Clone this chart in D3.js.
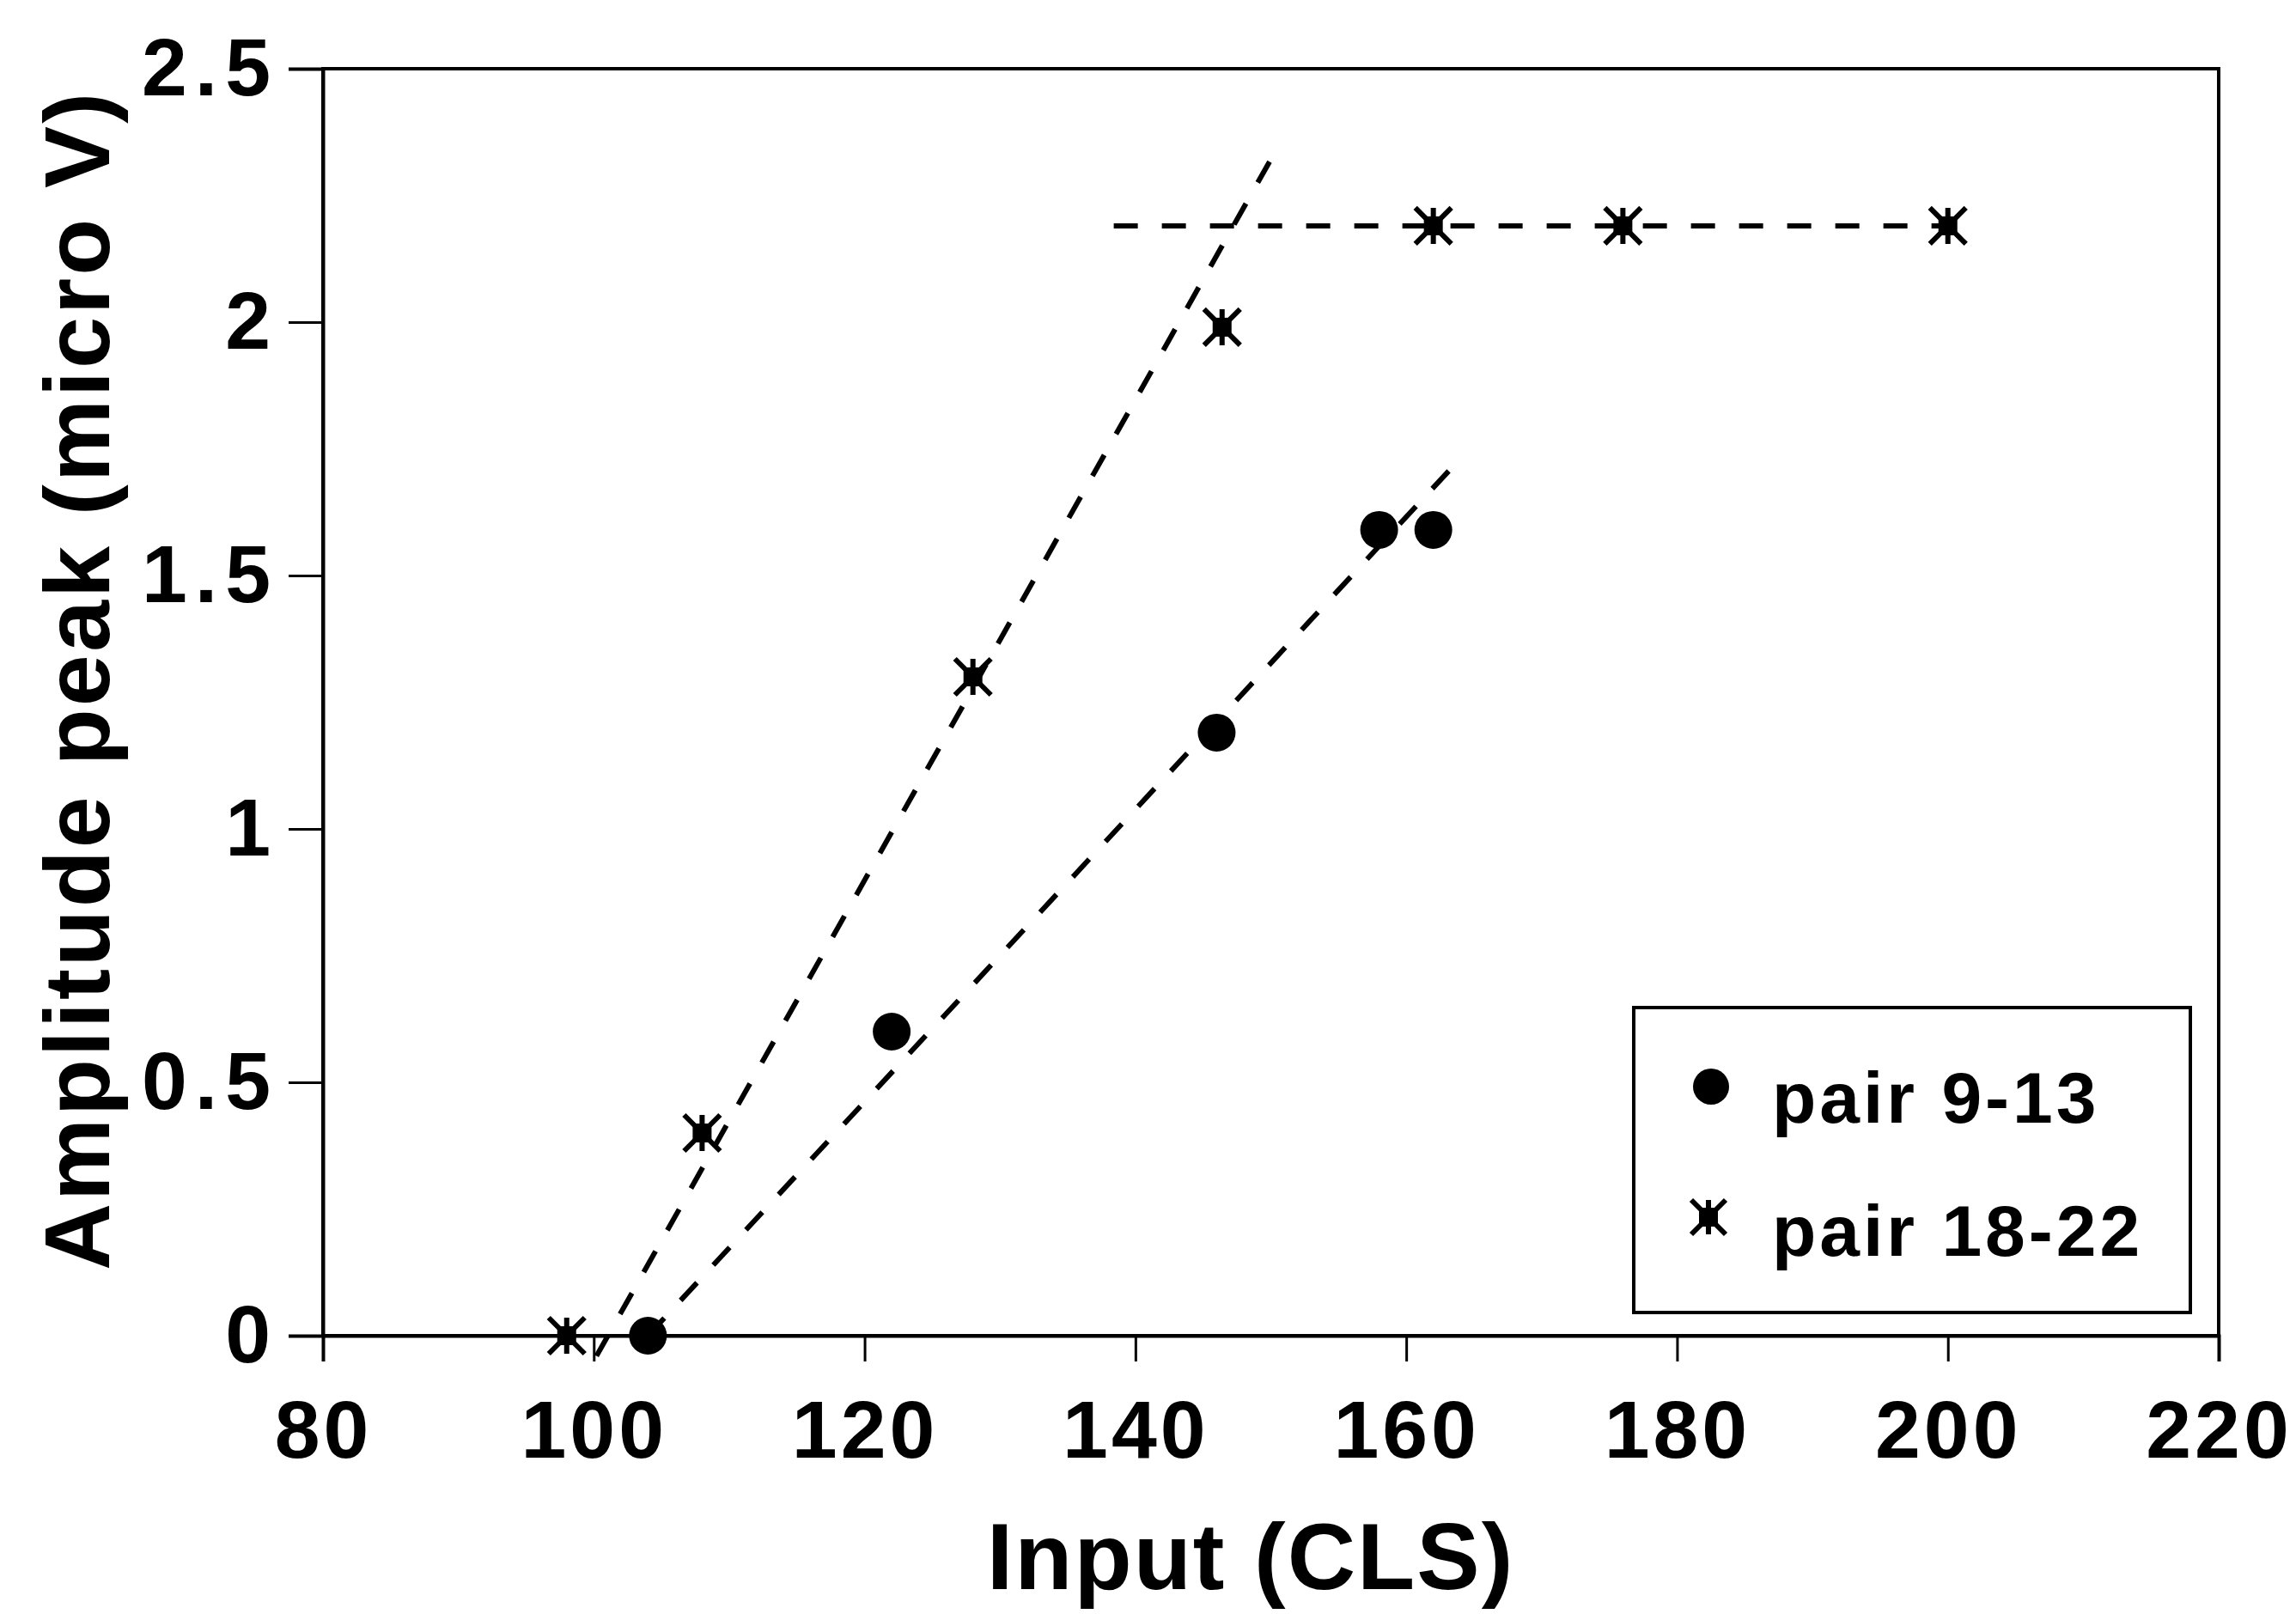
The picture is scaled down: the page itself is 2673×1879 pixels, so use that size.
<!DOCTYPE html>
<html>
<head>
<meta charset="utf-8">
<script src="https://cdn.jsdelivr.net/npm/d3@7"></script>
<style>
  body { margin: 0; background: #fff; }
  text { font-family: "Liberation Sans", Arial, sans-serif; font-weight: bold; fill: #000; }
</style>
</head>
<body>
<div id="chart"></div>
<script>
// data
var circle_x   = [104, 122, 146, 158, 162];
var circle_y   = [0, 0.6, 1.19, 1.59, 1.59];
var star_x     = [98, 108, 128, 146.4, 162, 176, 200];
var star_y     = [0, 0.4, 1.3, 1.99, 2.19, 2.19, 2.19];
// hand drawn dashed guide lines, [x0, y0, x1, y1]
var guide_lines = [
  [100.2, -0.04, 150.4, 2.34],
  [104, 0, 164.1, 1.734],
  [138.4, 2.19, 201, 2.19]
];
var x_ticks    = [80, 100, 120, 140, 160, 180, 200, 220];
var y_ticks    = [0, 0.5, 1, 1.5, 2, 2.5];
var series_names = ["pair 9-13", "pair 18-22"];

// Width and height
var chart_width  = 2673;
var chart_height = 1879;
var plot_left = 376, plot_right = 2583, plot_top = 80, plot_bottom = 1555;

var x = d3.scaleLinear().domain([80, 220]).range([plot_left, plot_right]);
var y = d3.scaleLinear().domain([0, 2.5]).range([plot_bottom, plot_top]);

var svg = d3.select("#chart")
    .append("svg")
    .attr("width", chart_width)
    .attr("height", chart_height);

// frame
svg.append("rect")
    .attr("x", plot_left).attr("y", plot_top)
    .attr("width", plot_right - plot_left).attr("height", plot_bottom - plot_top)
    .attr("fill", "none").attr("stroke", "#000").attr("stroke-width", 4);

// axes
var x_axis = svg.append("g")
    .attr("transform", "translate(0," + plot_bottom + ")")
    .call(d3.axisBottom(x).tickValues(x_ticks).tickSize(30).tickPadding(45).tickFormat(function(d){ return d; }));
var y_axis = svg.append("g")
    .attr("transform", "translate(" + plot_left + ",0)")
    .call(d3.axisLeft(y).tickValues(y_ticks).tickSize(40).tickPadding(12).tickFormat(function(d){ return d; }));

[x_axis, y_axis].forEach(function(g){
  g.select(".domain").attr("stroke-width", 4);
  g.selectAll(".tick line").attr("stroke-width", 3);
  g.selectAll("text")
    .attr("font-family", null)
    .attr("font-size", null)
    .style("font-size", "95px");
});
x_axis.selectAll("text").style("letter-spacing", "4px");
y_axis.selectAll("text").style("letter-spacing", "9px");

// dashed guide lines
svg.selectAll("line.guide")
    .data(guide_lines)
    .enter()
    .append("line")
    .attr("class", "guide")
    .attr("x1", function(d){ return x(d[0]); })
    .attr("y1", function(d){ return y(d[1]); })
    .attr("x2", function(d){ return x(d[2]); })
    .attr("y2", function(d){ return y(d[3]); })
    .attr("stroke", "#000")
    .attr("stroke-width", 6)
    .attr("stroke-dasharray", "28,28");

// asterisk marker: X plus a vertical bar and a solid middle
function draw_star(g, s){
  g.append("path")
    .attr("d", "M" + (-s) + "," + (-s) + "L" + s + "," + s +
               "M" + (-s) + "," + s + "L" + s + "," + (-s) +
               "M0," + (-s) + "L0," + s)
    .attr("stroke", "#000").attr("stroke-width", 6).attr("fill", "none");
  g.append("rect")
    .attr("x", -11).attr("y", -11).attr("width", 22).attr("height", 22)
    .attr("fill", "#000");
}

var stars = d3.zip(star_x, star_y);
svg.selectAll("g.star")
    .data(stars)
    .enter()
    .append("g")
    .attr("class", "star")
    .attr("transform", function(d){ return "translate(" + x(d[0]) + "," + y(d[1]) + ")"; })
    .each(function(){ draw_star(d3.select(this), 21); });

var circles = d3.zip(circle_x, circle_y);
svg.selectAll("circle.pt")
    .data(circles)
    .enter()
    .append("circle")
    .attr("class", "pt")
    .attr("cx", function(d){ return x(d[0]); })
    .attr("cy", function(d){ return y(d[1]); })
    .attr("r", 22)
    .attr("fill", "#000");

// legend
var legend = svg.append("g");
legend.append("rect")
    .attr("x", 1902).attr("y", 1173).attr("width", 648).attr("height", 355)
    .attr("fill", "#fff").attr("stroke", "#000").attr("stroke-width", 4);
legend.append("circle").attr("cx", 1992).attr("cy", 1265).attr("r", 21).attr("fill", "#000");
draw_star(legend.append("g").attr("transform", "translate(1989,1417)"), 20);
legend.selectAll("text")
    .data(series_names)
    .enter()
    .append("text")
    .attr("x", 2063)
    .attr("y", function(d, i){ return 1307 + i * 155; })
    .style("font-size", "84px")
    .style("letter-spacing", "4px")
    .text(function(d){ return d; });

// axis titles
svg.append("text")
    .attr("x", 1456).attr("y", 1850)
    .attr("text-anchor", "middle")
    .style("font-size", "110px")
    .style("letter-spacing", "2px")
    .text("Input (CLS)");

svg.append("text")
    .attr("transform", "translate(127,792) rotate(-90)")
    .attr("text-anchor", "middle")
    .style("font-size", "108px")
    .style("letter-spacing", "3px")
    .text("Amplitude peak (micro V)");
</script>
</body>
</html>
